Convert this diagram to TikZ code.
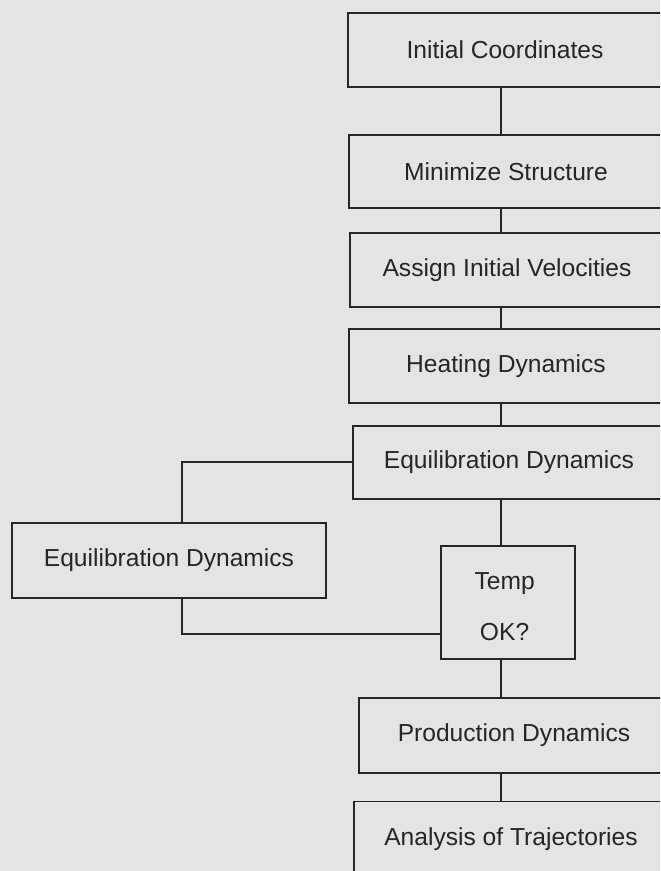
\documentclass[tikz,border=0pt]{standalone}
\usepackage{fontspec}
\setmainfont{Liberation Sans}
\usepackage{tikz}
\usetikzlibrary{positioning}
\definecolor{papercolor}{RGB}{228,228,226}
\definecolor{inkcolor}{RGB}{38,38,38}

\begin{document}
\begin{tikzpicture}[
			stage/.style={
				draw=inkcolor,
				line width=1.5pt,
				fill=papercolor,
				align=center,
				inner sep=0pt,
				minimum width=9.42cm,
				minimum height=2.2cm,
				text=inkcolor,
				font=\fontsize{21}{25.2}\selectfont
			},
			check/.style={
				stage,
				minimum width=4.02cm,
				minimum height=3.39cm
			},
			link/.style={
				line width=1.6pt,
				draw=inkcolor
			}
			]
			
			\useasboundingbox (0,0) rectangle (19.8,26.13);
			\fill[papercolor] (0,0) rectangle (19.8,26.13);
			\clip (0,0) rectangle (19.8,26.13);
			
			% Main column
			\node[stage] (init) at (15.15,24.63) {Initial Coordinates};
			\node[stage] (minimize) at (15.18,20.98) {Minimize Structure};
			\node[stage] (velocity) at (15.21,18.03) {Assign Initial Velocities};
			\node[stage] (heating) at (15.18,15.15) {Heating Dynamics};
			\node[stage,minimum width=9.36cm] (equil) at (15.27,12.26) {Equilibration Dynamics};
			
			% Side loop
			\node[stage,minimum height=2.25cm] (reequil) at (5.07,9.32) {Equilibration Dynamics};
			
			% Temperature check
			\node[check] (temp) at (15.24,8.06) {%
				\raisebox{-0.21cm}[\height][\depth]{%
					\begin{tabular}{@{}c@{}}Temp\\[18pt]OK?\end{tabular}}
			};
			
			% Production and analysis
			\node[stage,minimum width=9.3cm,minimum height=2.25cm] (prod) at (15.42,4.07) {Production Dynamics};
			\node[stage,minimum height=2.25cm] (analysis) at (15.33,0.96) {Analysis of Trajectories};
			
			\coordinate (spine) at (15.04,0);
			\coordinate (loopline) at (5.46,0);
			\coordinate (back) at (0,7.11);
			
			% Main column links
			\draw[link]
			(init.south -| spine) -- (minimize.north -| spine);
			
			\draw[link]
			(minimize.south -| spine) -- (velocity.north -| spine);
			
			\draw[link]
			(velocity.south -| spine) -- (heating.north -| spine);
			
			\draw[link]
			(heating.south -| spine) -- (equil.north -| spine);
			
			\draw[link]
			(equil.south -| spine) -- (temp.north -| spine);
			
			\draw[link]
			(temp.south -| spine) -- (prod.north -| spine);
			
			\draw[link]
			(prod.south -| spine) -- (analysis.north -| spine);
			
			% Loop links
			\draw[link]
			(equil.west) -| (reequil.north -| loopline);
			
			\draw[link]
			(reequil.south -| loopline) |- (temp.west |- back);
			
		\end{tikzpicture}
\end{document}
